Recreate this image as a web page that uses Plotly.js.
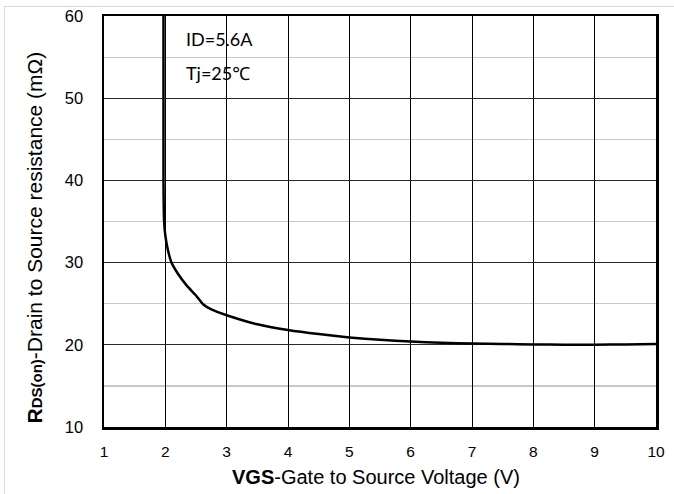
<!DOCTYPE html>
<html>
<head>
<meta charset="utf-8">
<script src="https://cdn.plot.ly/plotly-3.0.1.min.js"></script>
<style>
html,body{margin:0;padding:0;background:#fff;}
#wrap{position:relative;width:674px;height:494px;}
#chart{width:674px;height:494px;}
#frame{position:absolute;left:4px;top:6px;width:700px;height:600px;border-left:1px solid #d9d9d9;border-top:1px solid #d9d9d9;pointer-events:none;}
</style>
</head>
<body>
<div id="wrap"><div id="chart"></div><div id="frame"></div></div>
<script>
// Gate-source voltage (V) and on-resistance (mΩ)
const vgs = [1.97, 1.97, 1.98, 2.00, 2.04, 2.10, 2.20, 2.35, 2.50, 2.62, 2.75, 3.00, 3.50, 4.00, 4.50, 5.00, 5.50, 6.00, 6.50, 7.00, 7.50, 8.00, 8.50, 9.00, 9.50, 10.00];
const rds = [60.0, 40.0, 35.0, 33.3, 31.6, 30.0, 28.7, 27.2, 26.0, 24.9, 24.3, 23.6, 22.5, 21.8, 21.3, 20.9, 20.6, 20.4, 20.25, 20.15, 20.1, 20.05, 20.0, 20.0, 20.05, 20.1];
const xTicks = [1,2,3,4,5,6,7,8,9,10];
const yTicks = [10,20,30,40,50,60];
const notes = ["ID=5.6A", "Tj=25℃"];
const noteX = [2.3, 2.3];
const noteY = [57.15, 53.05];

const annos = notes.map((t,i)=>({
  text:t, x:noteX[i], y:noteY[i], xref:'x', yref:'y', xanchor:'left', yanchor:'middle',
  showarrow:false, font:{family:'Lato, "Noto Sans", sans-serif', size:18, color:'#000'}
}));
annos.push({
  text:'<b>R<span style="font-size:15px">DS(on)</span></b>-Drain to Source resistance (mΩ)',
  xref:'paper', yref:'paper', x:-0.125, y:0.461, xanchor:'center', yanchor:'middle',
  textangle:-90, showarrow:false, font:{family:'"Liberation Sans", Arial, sans-serif', size:21, color:'#000'}
});
annos.push({
  text:'<b>VGS</b>-Gate to Source Voltage (V)',
  xref:'paper', yref:'paper', x:0.493, y:-0.1226, xanchor:'center', yanchor:'middle',
  showarrow:false, font:{family:'"Liberation Sans", Arial, sans-serif', size:20, color:'#000'}
});

const data = [{
  x: vgs, y: rds, type:'scatter', mode:'lines',
  line:{color:'#000', width:2.5, shape:'spline', smoothing:0.6},
  hoverinfo:'skip'
}];

const layout = {
  width:674, height:494,
  margin:{l:104, r:18, t:15.5, b:66.5},
  paper_bgcolor:'#fff', plot_bgcolor:'#fff',
  showlegend:false,
  font:{family:'"Liberation Sans", Arial, sans-serif', size:16, color:'#000'},
  xaxis:{
    range:[1,10], tickvals:xTicks, ticktext:xTicks.map(String),
    showgrid:true, gridcolor:'#000', gridwidth:1,
    showline:true, linecolor:'#000', linewidth:2.5, mirror:true,
    ticks:'outside', ticklen:9, tickcolor:'rgba(0,0,0,0)',
    zeroline:false, tickfont:{size:15.5, color:'#000'}
  },
  yaxis:{
    range:[10,60], tickvals:yTicks, ticktext:yTicks.map(String),
    showgrid:true, gridcolor:'#2a2a2a', gridwidth:1.4,
    minor:{dtick:5, tick0:0, showgrid:true, gridcolor:'#c8c8c8', gridwidth:1.2, ticks:''},
    showline:true, linecolor:'#000', linewidth:2.5, mirror:true,
    ticks:'outside', ticklen:15, tickcolor:'rgba(0,0,0,0)',
    zeroline:false, tickfont:{size:16.5, color:'#000'}
  },
  annotations: annos
};
Plotly.newPlot('chart', data, layout, {staticPlot:true, displayModeBar:false});
</script>
</body>
</html>
